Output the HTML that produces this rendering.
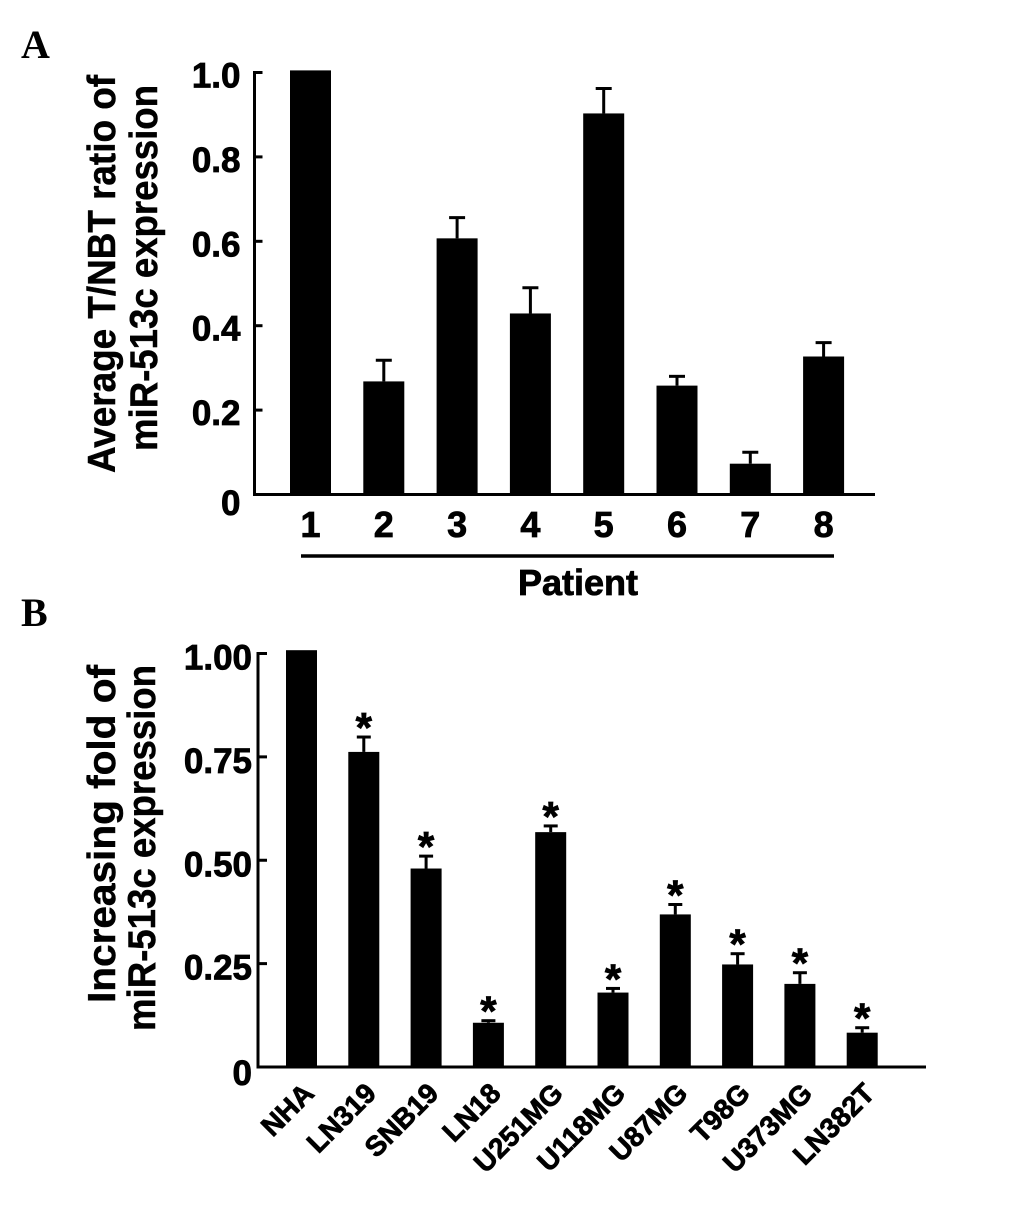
<!DOCTYPE html>
<html lang="en">
<head>
<meta charset="utf-8">
<title>miR-513c expression</title>
<style>
html,body{margin:0;padding:0;background:#fff;}
svg{display:block;}
text{font-family:"Liberation Sans",sans-serif;font-weight:700;fill:#000;stroke:#000;stroke-width:.8px;}
.panel{font-family:"Liberation Serif",serif;font-size:40px;stroke-width:0;}
.ttl{font-size:39px;stroke-width:.5px;}
</style>
</head>
<body>
<svg id="fig" width="1033" height="1209" viewBox="0 0 1033 1209" xmlns="http://www.w3.org/2000/svg">
  <rect x="0" y="0" width="1033" height="1209" fill="#fff"/>
  <text class="panel" x="21" y="58">A</text>
  <text class="panel" x="21" y="626">B</text>

  <text class="ttl" transform="translate(115,274) rotate(-90)" text-anchor="middle" textLength="398" lengthAdjust="spacingAndGlyphs">Average T/NBT ratio of</text>
  <text class="ttl" transform="translate(157,268) rotate(-90)" text-anchor="middle" textLength="366" lengthAdjust="spacingAndGlyphs">miR-513c expression</text>
  <line x1="301" y1="556" x2="834" y2="556" stroke="#000" stroke-width="3.5"/>
  <text x="578" y="595" text-anchor="middle" font-size="36">Patient</text>

  <text class="ttl" transform="translate(115,834) rotate(-90)" text-anchor="middle" textLength="338" lengthAdjust="spacingAndGlyphs">Increasing fold of</text>
  <text class="ttl" transform="translate(155,848) rotate(-90)" text-anchor="middle" textLength="366" lengthAdjust="spacingAndGlyphs">miR-513c expression</text>

  <g id="chartA"></g>
  <g id="chartB"></g>
</svg>
<script>
// Panel A data
const patientLabels = ['1','2','3','4','5','6','7','8'];
const patientValues = [1.005,0.268,0.607,0.429,0.903,0.258,0.073,0.327];
const patientErrorTops = [null,0.318,0.656,0.490,0.962,0.280,0.100,0.360];
const patientTicks = [0,0.2,0.4,0.6,0.8,1.0];
const patientTickLabels = ['0','0.2','0.4','0.6','0.8','1.0'];

// Panel B data
const cellLabels = ['NHA','LN319','SNB19','LN18','U251MG','U118MG','U87MG','T98G','U373MG','LN382T'];
const cellValues = [1.008,0.762,0.480,0.107,0.568,0.180,0.369,0.248,0.201,0.083];
const cellErrorTops = [null,0.798,0.510,0.112,0.583,0.190,0.393,0.274,0.228,0.095];
const cellStars = [false,true,true,true,true,true,true,true,true,true];
const cellTicks = [0,0.25,0.5,0.75,1.0];
const cellTickLabels = ['0','0.25','0.50','0.75','1.00'];

const NS = 'http://www.w3.org/2000/svg';
function mk(parent, tag, attrs, txt){
  const el = document.createElementNS(NS, tag);
  for (const k in attrs) el.setAttribute(k, attrs[k]);
  if (txt !== undefined) el.textContent = txt;
  parent.appendChild(el);
  return el;
}

function drawChart(cfg){
  const g = document.getElementById(cfg.id);
  const y = v => cfg.y0 - v * cfg.yLen;
  const x = i => cfg.x0 + i * cfg.step;

  const yAxis = mk(g,'line',{x1:cfg.axisX,x2:cfg.axisX,y1:y(cfg.ticks[cfg.ticks.length-1])-1.5,y2:cfg.y0+1.5,stroke:'#000','stroke-width':3});
  
  

  cfg.ticks.forEach((t,i)=>{
    const tick = mk(g,'line',{x1:cfg.axisX,x2:cfg.axisX+cfg.tickLen,y1:y(t),y2:y(t),stroke:'#000','stroke-width':3});
    
    
    const lab = mk(g,'text',{x:cfg.axisX-cfg.tickPad,y:y(t)+cfg.tickDy+(t===0?cfg.zeroDy:0),'text-anchor':'end','font-size':cfg.tickFont},cfg.tickLabels[i]);
    
    
  });

  cfg.values.forEach((v,i)=>{
    const cx = x(i);
    const top = cfg.errs[i];
    if (top !== null){
      const stem = mk(g,'line',{x1:cx,x2:cx,y1:y(v),y2:y(top),stroke:'#000','stroke-width':3});
      
      
      const cap = mk(g,'line',{x1:cx-cfg.cap,x2:cx+cfg.cap,y1:y(top),y2:y(top),stroke:'#000','stroke-width':3});
      
      
    }
    const bar = mk(g,'rect',{x:cx-cfg.barW/2,y:y(v),width:cfg.barW,height:cfg.y0-y(v),fill:'#000'});
    
    

    if (cfg.stars && cfg.stars[i]){
      const star = mk(g,'text',{x:cx,y:y(top)+cfg.starDy,'text-anchor':'middle','font-size':cfg.starFont},'*');
      
      
    }
    if (cfg.rotate){
      const lab = mk(g,'text',{transform:'translate('+(cx+cfg.labDx)+','+cfg.labY+') rotate(-45)','text-anchor':'end','font-size':cfg.labFont},cfg.labels[i]);
      
      
    } else {
      const lab = mk(g,'text',{x:cx,y:cfg.labY,'text-anchor':'middle','font-size':cfg.labFont},cfg.labels[i]);
      
      
    }
  });

  const xAxis = mk(g,'line',{x1:cfg.axisX-1.5,x2:cfg.axisEnd,y1:cfg.y0,y2:cfg.y0,stroke:'#000','stroke-width':3});
  
  
}

drawChart({id:'chartA',labels:patientLabels,values:patientValues,errs:patientErrorTops,ticks:patientTicks,tickLabels:patientTickLabels,
  y0:494.5,yLen:422,x0:310.5,step:73.3,barW:41,cap:8,axisX:254.5,axisEnd:875,tickLen:8,tickPad:14,tickDy:15,zeroDy:5.5,tickFont:35,
  labY:537,labFont:36,rotate:false});
drawChart({id:'chartB',labels:cellLabels,values:cellValues,errs:cellErrorTops,stars:cellStars,ticks:cellTicks,tickLabels:cellTickLabels,
  y0:1067,yLen:413.5,x0:301.5,step:62.3,barW:31,cap:7,axisX:258,axisEnd:926,tickLen:9,tickPad:6,tickDy:16,zeroDy:2,tickFont:35,
  starDy:5,starFont:42,labY:1095,labDx:14,labFont:28,rotate:true});
</script>
</body>
</html>
